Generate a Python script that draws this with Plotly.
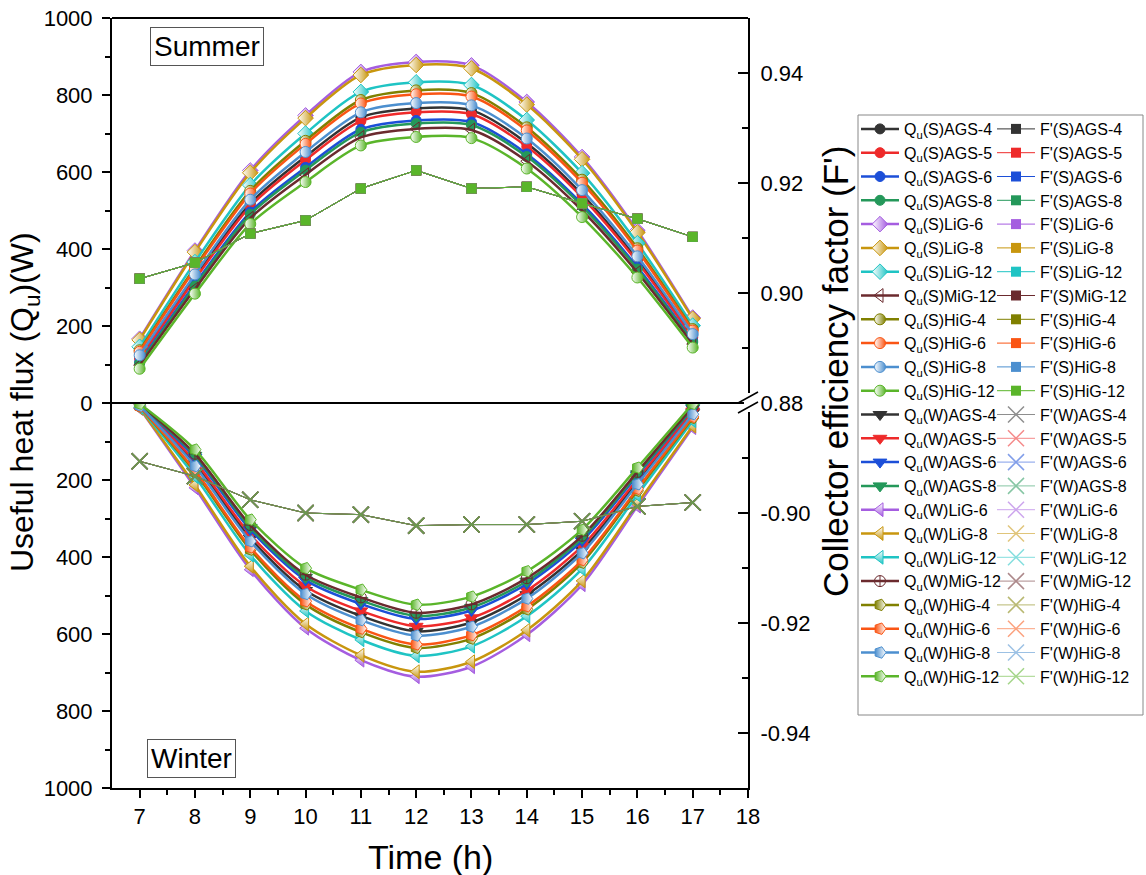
import plotly.graph_objects as go

FONT = "Liberation Sans, Arial, sans-serif"

hours = [7, 8, 9, 10, 11, 12, 13, 14, 15, 16, 17]
configs = ["AGS-4", "AGS-5", "AGS-6", "AGS-8", "LiG-6", "LiG-8", "LiG-12",
           "MiG-12", "HiG-4", "HiG-6", "HiG-8", "HiG-12"]
colors = ["#333333", "#ee2a2a", "#1c4fd8", "#24985a", "#a55de0", "#c8960e",
          "#1fc4c4", "#6b2a2e", "#808000", "#fa5514", "#4c8fcf", "#5ab52a"]

# Useful heat flux, summer (W)
qs_ags4 = [119, 327, 518, 640, 742, 765, 760, 675, 542, 372, 174]
qs_ags5 = [115, 321, 511, 631, 732, 755, 750, 666, 534, 366, 170]
qs_ags6 = [106, 309, 496, 612, 711, 734, 730, 647, 517, 353, 161]
qs_ags8 = [103, 304, 490, 605, 703, 726, 722, 640, 511, 348, 158]
qs_lig6 = [167, 396, 604, 747, 860, 886, 877, 782, 639, 448, 222]
qs_lig8 = [164, 392, 598, 740, 852, 878, 869, 775, 633, 443, 219]
qs_lig12 = [146, 366, 566, 700, 808, 833, 826, 735, 597, 415, 201]
qs_mig12 = [98, 296, 480, 593, 690, 712, 709, 628, 500, 339, 153]
qs_hig4 = [137, 353, 551, 681, 787, 812, 805, 716, 580, 402, 192]
qs_hig6 = [133, 348, 544, 673, 778, 802, 796, 708, 572, 396, 188]
qs_hig8 = [124, 334, 528, 652, 755, 779, 773, 687, 553, 381, 179]
qs_hig12 = [89, 284, 465, 574, 669, 691, 688, 609, 483, 326, 144]

# Useful heat flux, winter (W, drawn downward)
qw_ags4 = [6, 158, 351, 487, 553, 593, 570, 498, 382, 205, 25]
qw_ags5 = [6, 151, 342, 476, 540, 580, 558, 487, 372, 198, 21]
qw_ags6 = [4, 141, 329, 460, 522, 561, 539, 470, 358, 188, 14]
qw_ags8 = [4, 136, 323, 453, 513, 553, 531, 463, 351, 184, 12]
qw_lig6 = [14, 220, 433, 585, 668, 711, 685, 602, 472, 268, 64]
qw_lig8 = [13, 213, 424, 574, 655, 698, 672, 590, 462, 261, 60]
qw_lig12 = [11, 191, 395, 540, 615, 657, 632, 554, 431, 239, 46]
qw_mig12 = [3, 132, 317, 446, 505, 545, 523, 455, 345, 179, 9]
qw_hig4 = [9, 180, 381, 523, 595, 636, 612, 536, 415, 228, 39]
qw_hig6 = [9, 175, 375, 515, 586, 627, 603, 528, 408, 223, 36]
qw_hig8 = [7, 164, 359, 496, 564, 604, 581, 508, 390, 211, 29]
qw_hig12 = [2, 121, 303, 429, 485, 524, 503, 437, 329, 168, 2]

# Collector efficiency factor F'
f_summer = [0.9026, 0.9055, 0.9108, 0.9132, 0.9190, 0.9223, 0.9190, 0.9193, 0.9163, 0.9135, 0.9102]
f_winter = [-0.8906, -0.8933, -0.8976, -0.9000, -0.9003, -0.9023, -0.9021, -0.9021, -0.9015, -0.8988, -0.8981]

qu_summer = [qs_ags4, qs_ags5, qs_ags6, qs_ags8, qs_lig6, qs_lig8, qs_lig12,
             qs_mig12, qs_hig4, qs_hig6, qs_hig8, qs_hig12]
qu_winter = [qw_ags4, qw_ags5, qw_ags6, qw_ags8, qw_lig6, qw_lig8, qw_lig12,
             qw_mig12, qw_hig4, qw_hig6, qw_hig8, qw_hig12]

x_ticks = [7, 8, 9, 10, 11, 12, 13, 14, 15, 16, 17, 18]
q_ticks_top = [0, 200, 400, 600, 800, 1000]
q_ticks_bottom = [200, 400, 600, 800, 1000]
f_ticks_top = [0.88, 0.90, 0.92, 0.94]
f_ticks_bottom = [-0.90, -0.92, -0.94]


def marker_summer(name, c):
    fam = name.split("-")[0]
    if fam == "AGS":
        return dict(symbol="circle", size=10, color=c, line=dict(color=c, width=1))
    if fam == "LiG":
        return dict(symbol="diamond", size=12, color="white",
                    gradient=dict(type="horizontal", color=c), line=dict(color=c, width=1))
    if fam == "MiG":
        return dict(symbol="triangle-left-open", size=12, color=c, line=dict(color=c, width=1))
    return dict(symbol="circle", size=11, color="white",
                gradient=dict(type="horizontal", color=c), line=dict(color=c, width=1))


def marker_winter(name, c):
    fam = name.split("-")[0]
    if fam == "AGS":
        return dict(symbol="triangle-down", size=12, color=c, line=dict(color=c, width=1))
    if fam == "LiG":
        return dict(symbol="triangle-left", size=12, color="white",
                    gradient=dict(type="vertical", color=c), line=dict(color=c, width=1))
    if fam == "MiG":
        return dict(symbol="circle-cross-open", size=11, color=c, line=dict(color=c, width=1))
    return dict(symbol="pentagon", size=12, angle=90, color=c,
                gradient=dict(type="horizontal", color="white"), line=dict(color=c, width=1))


fig = go.Figure()

for name, c, vals in zip(configs, colors, qu_summer):
    fig.add_trace(go.Scatter(
        x=hours, y=vals, xaxis="x", yaxis="y", mode="lines+markers",
        name="Q<sub>u</sub>(S)" + name, legend="legend",
        line=dict(color=c, width=2.5, shape="spline", smoothing=0.8),
        marker=marker_summer(name, c)))

for name, c in zip(configs, colors):
    fig.add_trace(go.Scatter(
        x=hours, y=f_summer, xaxis="x", yaxis="y2", mode="lines+markers",
        name="F'(S)" + name, legend="legend2",
        line=dict(color=c, width=1),
        marker=dict(symbol="square", size=10, color=c)))

for name, c, vals in zip(configs, colors, qu_winter):
    fig.add_trace(go.Scatter(
        x=hours, y=vals, xaxis="x", yaxis="y3", mode="lines+markers",
        name="Q<sub>u</sub>(W)" + name, legend="legend",
        line=dict(color=c, width=2.5, shape="spline", smoothing=0.8),
        marker=marker_winter(name, c)))

for name, c in zip(configs, colors):
    fig.add_trace(go.Scatter(
        x=hours, y=f_winter, xaxis="x", yaxis="y4", mode="lines+markers",
        name="F'(W)" + name, legend="legend2", opacity=0.55,
        line=dict(color=c, width=1),
        marker=dict(symbol="x-thin", size=16, color=c, line=dict(color=c, width=1.5))))

W, H = 1146, 875
L, R, T, B = 112, 748, 18, 788


def px(xp):
    return (xp - L) / (R - L)


def py(yp):
    return (B - yp) / (B - T)


tickfont = dict(family=FONT, size=22, color="black")
axis_common = dict(showgrid=False, zeroline=False, showline=True, linecolor="black",
                   linewidth=2, tickcolor="black", tickwidth=2, tickfont=tickfont)

fig.update_layout(
    width=W, height=H,
    margin=dict(l=L, r=W - R, t=T, b=H - B, autoexpand=False),
    paper_bgcolor="white", plot_bgcolor="white",
    font=dict(family=FONT, color="black"),
    xaxis=dict(domain=[0, 1], range=[6.5, 18], anchor="y3",
               tickvals=x_ticks, ticktext=[str(v) for v in x_ticks],
               ticks="outside", ticklen=8,
               minor=dict(tickvals=[v + 0.5 for v in x_ticks[:-1]], ticks="outside",
                          ticklen=5, tickwidth=2, tickcolor="black"),
               **axis_common),
    yaxis=dict(domain=[0.5, 1], range=[0, 1000], anchor="x",
               tickvals=q_ticks_top, ticktext=[str(v) for v in q_ticks_top],
               ticks="outside", ticklen=8, ticklabelstandoff=5,
               minor=dict(tickvals=[100, 300, 500, 700, 900], ticks="outside",
                          ticklen=5, tickwidth=2, tickcolor="black"),
               **axis_common),
    yaxis2=dict(overlaying="y", range=[0.88, 0.95], anchor="x", side="right",
                tickvals=f_ticks_top, ticktext=["%.2f" % v for v in f_ticks_top],
                ticks="inside", ticklen=10, ticklabelstandoff=6,
                minor=dict(tickvals=[0.89, 0.91, 0.93], ticks="inside",
                           ticklen=6, tickwidth=2, tickcolor="black"),
                **axis_common),
    yaxis3=dict(domain=[0, 0.5], range=[1000, 0], anchor="x",
                tickvals=q_ticks_bottom, ticktext=[str(v) for v in q_ticks_bottom],
                ticks="outside", ticklen=8, ticklabelstandoff=5,
                minor=dict(tickvals=[100, 300, 500, 700, 900], ticks="outside",
                           ticklen=5, tickwidth=2, tickcolor="black"),
                **axis_common),
    yaxis4=dict(overlaying="y3", range=[-0.95, -0.88], anchor="x", side="right",
                tickvals=f_ticks_bottom, ticktext=["-%.2f" % abs(v) for v in f_ticks_bottom],
                ticks="inside", ticklen=10, ticklabelstandoff=6,
                minor=dict(tickvals=[-0.89, -0.91, -0.93], ticks="inside",
                           ticklen=6, tickwidth=2, tickcolor="black"),
                **axis_common),
    legend=dict(x=px(856), xanchor="left", y=py(112), yanchor="top",
                font=dict(family=FONT, size=16, color="black"),
                bgcolor="rgba(0,0,0,0)", borderwidth=0, itemwidth=38,
                tracegroupgap=0, traceorder="normal"),
    legend2=dict(x=px(992), xanchor="left", y=py(112), yanchor="top",
                 font=dict(family=FONT, size=16, color="black"),
                 bgcolor="rgba(0,0,0,0)", borderwidth=0, itemwidth=38,
                 tracegroupgap=0, traceorder="normal"),
)

shapes = [
    dict(type="line", xref="paper", yref="paper", x0=0, x1=1, y0=1, y1=1,
         line=dict(color="black", width=2)),
    dict(type="line", xref="paper", yref="paper", x0=0, x1=px(744), y0=0.5, y1=0.5,
         line=dict(color="black", width=2)),
    dict(type="rect", xref="paper", yref="paper", x0=px(744), x1=px(753),
         y0=py(412), y1=py(393), fillcolor="white", line=dict(width=0)),
    dict(type="line", xref="paper", yref="paper", x0=px(738), x1=px(758),
         y0=py(403), y1=py(392), line=dict(color="black", width=1.5)),
    dict(type="line", xref="paper", yref="paper", x0=px(738), x1=px(758),
         y0=py(413), y1=py(402), line=dict(color="black", width=1.5)),
    dict(type="rect", xref="paper", yref="paper", x0=px(858), x1=px(1143),
         y0=py(715), y1=py(115), line=dict(color="#888888", width=1)),
]

annotations = [
    dict(text="Summer", xref="paper", yref="paper", x=px(150), y=py(27),
         xanchor="left", yanchor="top", showarrow=False,
         font=dict(family=FONT, size=28, color="black"),
         bordercolor="#555555", borderwidth=1, borderpad=3, bgcolor="white"),
    dict(text="Winter", xref="paper", yref="paper", x=px(147), y=py(778),
         xanchor="left", yanchor="bottom", showarrow=False,
         font=dict(family=FONT, size=28, color="black"),
         bordercolor="#555555", borderwidth=1, borderpad=3, bgcolor="white"),
    dict(text="Useful heat flux (Q<sub>u</sub>)(W)", xref="paper", yref="paper",
         x=px(24), y=py(402), textangle=-90, showarrow=False,
         xanchor="center", yanchor="middle",
         font=dict(family=FONT, size=32, color="black")),
    dict(text="Collector efficiency factor (F')", xref="paper", yref="paper",
         x=px(835), y=py(372), textangle=-90, showarrow=False,
         xanchor="center", yanchor="middle",
         font=dict(family=FONT, size=35, color="black")),
    dict(text="Time (h)", xref="paper", yref="paper", x=px(430), y=py(857),
         showarrow=False, xanchor="center", yanchor="middle",
         font=dict(family=FONT, size=34, color="black")),
]

fig.update_layout(shapes=shapes, annotations=annotations)

fig.write_html("out.html", config={"displayModeBar": False},
               post_script="document.body.style.margin='0';")
